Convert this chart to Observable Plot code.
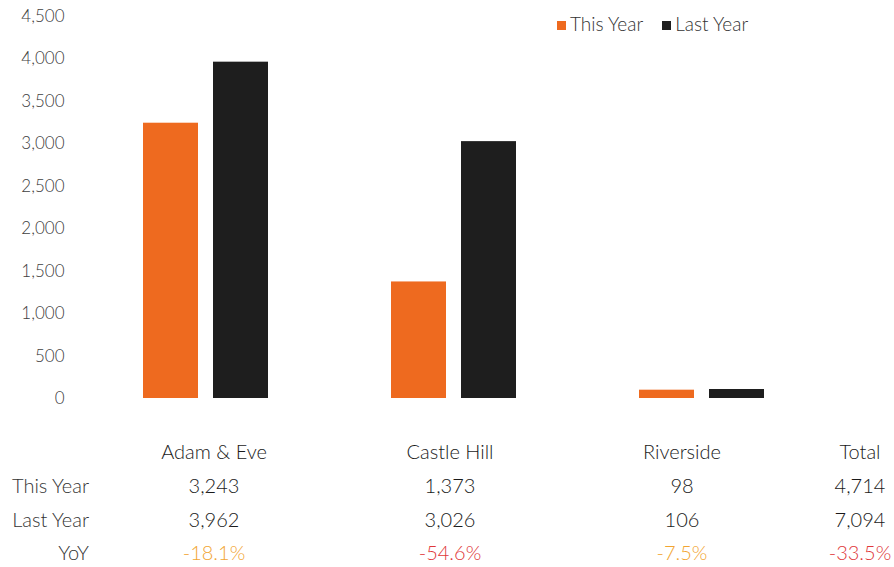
<!DOCTYPE html>
<html>
<head>
<meta charset="utf-8">
<script src="https://cdn.jsdelivr.net/npm/d3@7"></script>
<script src="https://cdn.jsdelivr.net/npm/@observablehq/plot@0.6"></script>
<style>
  body { margin: 0; background: #fff; font-family: Lato, "Open Sans", sans-serif; font-weight: 300; }
  #wrap { position: relative; width: 894px; height: 567px; overflow: hidden; }
  #legend { position: absolute; top: 12px; left: 557px; font-size: 19px; color: #333; display: flex; gap: 19px; }
  #legend span.sw { display: inline-block; width: 9px; height: 9px; margin-right: 4px; vertical-align: 1px; }
  .cell { position: absolute; font-size: 20px; color: #1a1a1a; white-space: nowrap; transform: translate(-50%, -50%); }
  .lab { position: absolute; font-size: 20px; color: #333; white-space: nowrap; transform: translate(-100%, -50%); }
  svg text { font-weight: 300; }
</style>
</head>
<body>
<div id="wrap"></div>
<script>
const categories = ["Adam & Eve", "Castle Hill", "Riverside"];
const thisYear = [3243, 1373, 98];
const lastYear = [3962, 3026, 106];
const series = ["This Year", "Last Year"];
const colors = ["#EE6A1F", "#1E1E1E"];
const yTicks = [0, 500, 1000, 1500, 2000, 2500, 3000, 3500, 4000, 4500];

const data = categories.flatMap((c, i) => [
  {category: c, series: "This Year", value: thisYear[i]},
  {category: c, series: "Last Year", value: lastYear[i]}
]);

const chart = Plot.plot({
  width: 894,
  height: 420,
  marginLeft: 70,
  marginRight: 69,
  marginTop: 16,
  marginBottom: 22,
  style: {fontFamily: "Lato, 'Open Sans', sans-serif", fontSize: "17px", color: "#404040", background: "#fff"},
  x: {type: "band", domain: categories, range: [81, 825], padding: 0, axis: null},
  y: {domain: [0, 4500], ticks: yTicks, tickFormat: d3.format(","), tickSize: 0, tickPadding: 6, label: null},
  color: {domain: series, range: colors},
  marks: [
    Plot.barY(data.filter(d => d.series === "This Year"), {x: "category", y: "value", fill: "series", insetLeft: 62, insetRight: 131}),
    Plot.barY(data.filter(d => d.series === "Last Year"), {x: "category", y: "value", fill: "series", insetLeft: 132, insetRight: 61})
  ]
});
chart.style.position = "absolute";
chart.style.left = "0px";
chart.style.top = "0px";
const wrap = document.getElementById("wrap");
wrap.appendChild(chart);

// legend
const legend = document.createElement("div");
legend.id = "legend";
series.forEach((s, i) => {
  const item = document.createElement("div");
  item.innerHTML = `<span class="sw" style="background:${colors[i]}"></span>${s}`;
  legend.appendChild(item);
});
wrap.appendChild(legend);

// table
const totalThis = d3.sum(thisYear), totalLast = d3.sum(lastYear);
const cols = [...categories, "Total"];
const colX = [214, 450, 682, 860];
const rowY = [451, 485, 519, 552];
const fmt = d3.format(",");
const thisRow = [...thisYear, totalThis];
const lastRow = [...lastYear, totalLast];
const yoy = thisRow.map((v, i) => (v - lastRow[i]) / lastRow[i]);
function cell(cls, x, y, text, color) {
  const d = document.createElement("div");
  d.className = cls;
  d.style.left = x + "px";
  d.style.top = y + "px";
  d.textContent = text;
  if (color) d.style.color = color;
  wrap.appendChild(d);
}
["This Year", "Last Year", "YoY"].forEach((l, i) => cell("lab", 89, rowY[i + 1], l));
cols.forEach((c, i) => {
  cell("cell", colX[i], rowY[0], c);
  cell("cell", colX[i], rowY[1], fmt(thisRow[i]));
  cell("cell", colX[i], rowY[2], fmt(lastRow[i]));
  cell("cell", colX[i], rowY[3], (yoy[i] * 100).toFixed(1) + "%", yoy[i] < -0.3 ? "#E0383A" : "#F2A532");
});
</script>
</body>
</html>
